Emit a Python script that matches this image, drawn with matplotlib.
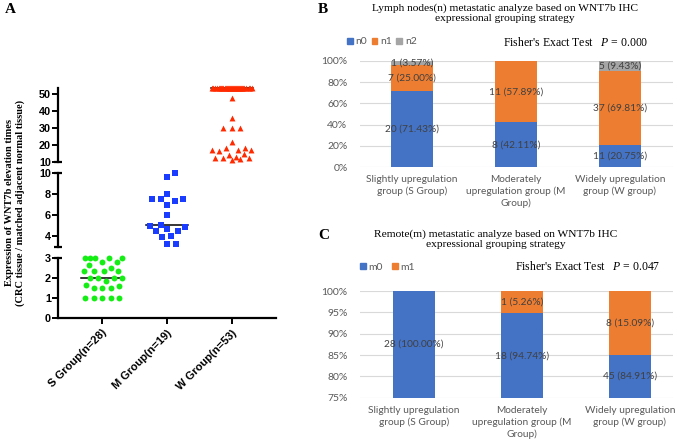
import matplotlib
matplotlib.use("Agg")
import matplotlib.pyplot as plt
import matplotlib.transforms as mtransforms
from matplotlib.patches import Patch
import numpy as np

plt.rcParams["mathtext.fontset"] = "custom"
plt.rcParams["mathtext.it"] = "Liberation Serif:italic"
plt.rcParams["mathtext.rm"] = "Liberation Serif"

# ---------------- data ----------------
a_groups = ["S Group(n=28)", "M Group(n=19)", "W Group(n=53)"]
s_values = [3.0, 3.0, 3.0, 3.0, 3.0, 2.8, 2.8, 2.65, 2.5, 2.33, 2.33, 2.33, 2.33,
            1.87, 2.0, 2.0, 2.0, 2.0, 1.65, 1.58, 1.5, 1.5, 1.5,
            1.0, 1.0, 1.0, 1.0, 1.0]
m_values = [10.0, 9.6, 8.0, 7.5, 7.35, 7.5, 7.5, 7.0, 6.0, 5.1, 5.0, 4.85,
            4.5, 4.5, 4.7, 4.0, 3.9, 3.3, 3.3]
w_values = [53.5] * 33 + [47.5, 36.0, 30.0, 30.0, 30.0, 21.5, 18.0, 17.2, 17.2,
                          16.5, 17.2, 18.0, 14.1, 14.5, 12.5, 11.8, 11.0, 12.2,
                          12.2, 12.9]

bc_categories = ["Slightly upregulation\ngroup (S Group)",
                 "Moderately\nupregulation group (M\nGroup)",
                 "Widely upregulation\ngroup (W group)"]
n0 = [20, 8, 11]
n1 = [7, 11, 37]
n2 = [1, 0, 5]
m0 = [28, 18, 45]
m1 = [0, 1, 8]

b_title = "Lymph nodes(n) metastatic analyze based on WNT7b IHC\nexpressional grouping strategy"
c_title = "Remote(m) metastatic analyze based on WNT7b IHC\nexpressional grouping strategy"
b_p = "0.000"
c_p = "0.047"

W, H = 685, 446
fig = plt.figure(figsize=(W / 100, H / 100), dpi=100)

def fr(x0, y_top, x1, y_bot):
    return [x0 / W, 1 - y_bot / H, (x1 - x0) / W, (y_bot - y_top) / H]

SERIF = "Liberation Serif"
SANS = "Liberation Sans"
XL = (0.323, 3.677)

# ---------------- panel A ----------------
ax_top = fig.add_axes(fr(58, 88, 276, 162))
ax_mid = fig.add_axes(fr(58, 173, 276, 247))
ax_bot = fig.add_axes(fr(58, 258, 276, 318))
segs = [(ax_top, (10, 53.5), [10, 20, 30, 40, 50]),
        (ax_mid, (3, 10), [4, 6, 8, 10]),
        (ax_bot, (0, 3), [0, 1, 2, 3])]
for ax, yl, ticks in segs:
    ax.set_xlim(*XL)
    ax.set_ylim(*yl)
    ax.patch.set_alpha(0)
    for sp in ["top", "right"]:
        ax.spines[sp].set_visible(False)
    ax.spines["left"].set_linewidth(1.6)
    ax.set_yticks(ticks)
    ax.tick_params(axis="y", length=4, width=1.4, pad=1, labelsize=7.8)
    for lab in ax.get_yticklabels():
        lab.set_fontfamily(SANS)
        lab.set_fontweight("bold")
    if ax is not ax_bot:
        ax.spines["bottom"].set_visible(False)
        ax.set_xticks([])
    trans = mtransforms.blended_transform_factory(ax.transAxes, ax.transData)
    if ax is ax_top:
        ends = [yl[0]]
    elif ax is ax_mid:
        ends = [yl[0], yl[1]]
    else:
        ends = [yl[1]]
    for e in ends:
        ax.plot([-0.018, 0.018], [e, e], color="black", lw=1.6, transform=trans,
                clip_on=False, solid_capstyle="butt")

ax_bot.spines["bottom"].set_linewidth(1.6)
ax_bot.set_xticks([1, 2, 3])
ax_bot.set_xticklabels(a_groups, rotation=45, ha="right", va="top",
                       rotation_mode="anchor", fontfamily=SANS,
                       fontweight="bold", fontsize=8)
ax_bot.tick_params(axis="x", length=4, width=1.4, pad=3)


def swarm(ax, x0, vals, d_px=8.3, maxhalf=20):
    tr = ax.transData
    order = np.argsort(vals, kind="stable")
    placed = []
    xs = np.zeros(len(vals))
    px_per_x = tr.transform((1, 0))[0] - tr.transform((0, 0))[0]
    cands = [0.0]
    k = 1
    while k * 0.5 <= maxhalf:
        cands += [k * 0.5, -k * 0.5]
        k += 1
    for i in order:
        yp = tr.transform((x0, vals[i]))[1]
        best, bestd, best_f = None, -1, 0.0
        for c in cands:
            if placed:
                dmin = min(np.hypot(c - px, yp - py) for px, py in placed)
            else:
                dmin = 1e9
            if dmin >= d_px:
                best = c
                break
            if dmin > bestd:
                bestd, best_f = dmin, c
        if best is None:
            best = best_f
        placed.append((best, yp))
        xs[i] = x0 + best / px_per_x
    return xs

green, blue, red = "#14ee14", "#1a3cff", "#ff2a00"
xs = swarm(ax_bot, 1, s_values)
ax_bot.scatter(xs, s_values, s=18, color=green, marker="o", lw=0, clip_on=False, zorder=3)
xs = swarm(ax_mid, 2, m_values)
ax_mid.scatter(xs, m_values, s=15, color=blue, marker="s", lw=0, clip_on=False, zorder=3)
xs = swarm(ax_top, 3, w_values)
ax_top.scatter(xs, w_values, s=18, color=red, marker="^", lw=0, clip_on=False, zorder=3)
for ax, x0, vals in [(ax_bot, 1, s_values), (ax_mid, 2, m_values), (ax_top, 3, w_values)]:
    med = np.median(vals)
    ax.plot([x0 - 0.33, x0 + 0.33], [med, med], color="black", lw=1.1,
            zorder=2, clip_on=False)

fig.text(15 / W, 1 - 203 / H,
         "Expression of WNT7b elevation times\n(CRC tissue / matched adjacent normal tissue)",
         rotation=90, ha="center", va="center", fontfamily=SERIF,
         fontweight="bold", fontsize=7.5, linespacing=1.25)
fig.text(5 / W, 1 - 3 / H, "A", fontfamily=SERIF, fontweight="bold",
         fontsize=11, va="top", ha="left")
fig.text(318 / W, 1 - 3 / H, "B", fontfamily=SERIF, fontweight="bold",
         fontsize=11, va="top", ha="left")
fig.text(318 / W, 1 - 229 / H, "C", fontfamily=SERIF, fontweight="bold",
         fontsize=11, va="top", ha="left")

# ---------------- panels B & C ----------------
BLUE, ORANGE, GRAY = "#4472C4", "#ED7D31", "#A5A5A5"
TXT = "#404040"
TICK = "#595959"
LAB = "Lato"


def stacked(ax, series, names, colors, ylim, yticks, xlim, width):
    x = np.arange(len(bc_categories))
    totals = np.sum(series, axis=0)
    bottom = np.zeros(len(x))
    for vals, col in zip(series, colors):
        pct = np.array(vals) / totals * 100
        ax.bar(x, pct, width, bottom=bottom, color=col, zorder=2)
        for xi, b, p, v in zip(x, bottom, pct, vals):
            if v == 0:
                continue
            lo = max(b, ylim[0])
            hi = min(b + p, ylim[1])
            ax.text(xi, (lo + hi) / 2, f"{v} ({p:.2f}%)", ha="center",
                    va="center", fontsize=7.3, color=TXT, fontfamily=LAB,
                    zorder=3)
        bottom += pct
    ax.set_ylim(*ylim)
    ax.set_xlim(*xlim)
    ax.set_yticks(yticks)
    ax.set_yticklabels([f"{t}%" for t in yticks], fontfamily=LAB,
                       fontsize=7.5, color=TICK)
    ax.set_xticks(x)
    ax.set_xticklabels(bc_categories, fontfamily=LAB, fontsize=7.3,
                       color=TICK, linespacing=1.3)
    ax.tick_params(length=0, pad=9)
    ax.tick_params(axis="x", pad=6)
    for sp in ax.spines.values():
        sp.set_visible(False)
    ax.grid(axis="y", color="#d9d9d9", lw=0.8, zorder=0)
    ax.set_axisbelow(True)
    handles = [Patch(color=c, label=n) for n, c in zip(names, colors)]
    return handles


axB = fig.add_axes(fr(360, 61, 673, 167))
hB = stacked(axB, [n0, n1, n2], ["n0", "n1", "n2"], [BLUE, ORANGE, GRAY],
             (0, 100), [0, 20, 40, 60, 80, 100], (-0.5, 2.51), 0.4)
axC = fig.add_axes(fr(360, 291, 673, 397.7))
hC = stacked(axC, [m0, m1], ["m0", "m1"], [BLUE, ORANGE],
             (75, 100), [75, 80, 85, 90, 95, 100], (-0.5, 2.4), 0.39)

for handles, xl, yl, cs in [(hB, 347, 42, 0.45), (hC, 360, 267, 0.9)]:
    leg = fig.legend(handles=handles, loc="center left",
                     bbox_to_anchor=(xl / W, 1 - yl / H), ncol=len(handles),
                     frameon=False, handlelength=0.55, handleheight=0.55,
                     handletextpad=0.25, columnspacing=cs,
                     prop={"family": LAB, "size": 7.5}, borderaxespad=0,
                     borderpad=0)
    for t in leg.get_texts():
        t.set_color(TICK)

fig.text(505 / W, 1 - 3 / H, b_title, ha="center", va="top",
         fontfamily=SERIF, fontsize=8.2, linespacing=1.15)
fig.text(496 / W, 1 - 229 / H, c_title, ha="center", va="top",
         fontfamily=SERIF, fontsize=8.2, linespacing=1.15)
fig.text(503 / W, 1 - 42 / H, f"Fisher's Exact Test   $P$ = {b_p}",
         ha="left", va="center", fontfamily=SERIF, fontsize=8.5)
fig.text(515 / W, 1 - 267 / H, f"Fisher's Exact Test   $P$ = {c_p}",
         ha="left", va="center", fontfamily=SERIF, fontsize=8.5)

fig.savefig("out.png", dpi=100)
